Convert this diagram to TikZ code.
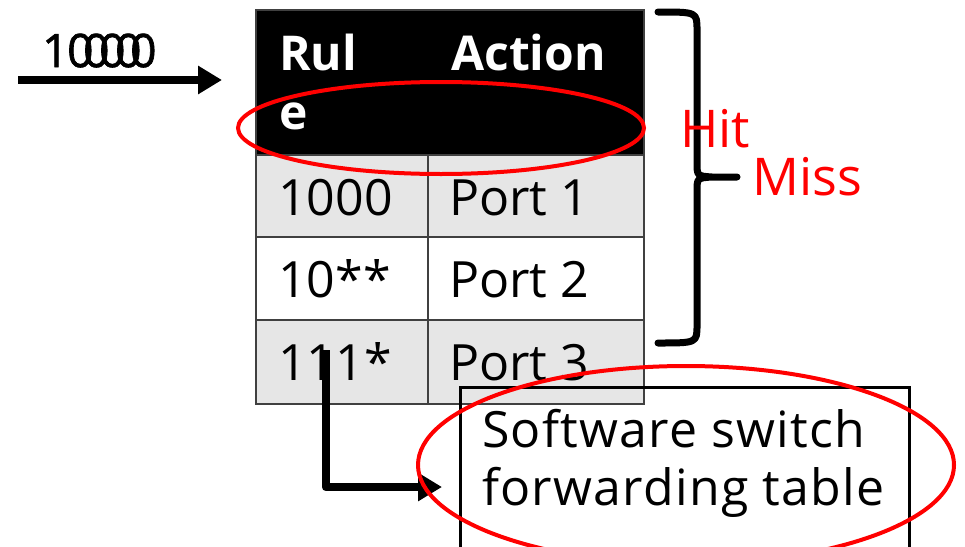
\documentclass[tikz,border=0pt]{standalone}
\usepackage{fontspec}
\setmainfont{Open Sans}
\usetikzlibrary{arrows.meta}
\definecolor{cellgray}{RGB}{230,230,230}
\definecolor{markred}{RGB}{255,0,0}
\begin{document}
\begin{tikzpicture}[x=1pt,y=-1pt,
  txt/.style={font=\fontsize{50}{60}\selectfont, inner sep=0pt, anchor=base west},
  headtxt/.style={txt, text=white, font=\fontsize{48}{58}\selectfont\bfseries},
  redtxt/.style={txt, text=markred, font=\fontsize{52}{60}\selectfont},
  boxtxt/.style={txt, font=\fontsize{50}{60}\selectfont\addfontfeature{LetterSpace=2.5}},
  pkttxt/.style={txt, font=\fontsize{46}{50}\selectfont\addfontfeature{FakeBold=1.5}},
  gridline/.style={draw=black!75, line width=1.8pt},
  thickarrow/.style={line width=8.5pt, -{Triangle[length=24pt,width=27pt]}},
  circled/.style={draw=markred, line width=4pt}]
\useasboundingbox (0,0) rectangle (965,546);

% table body
\fill[black] (256,10) rectangle (644,155);
\fill[cellgray] (256,155) rectangle (644,237);
\fill[white] (256,237) rectangle (644,320);
\fill[cellgray] (256,320) rectangle (644,404);
\draw[gridline] (256,10) rectangle (644,404);
\draw[gridline] (256,155) -- (644,155) (256,237) -- (644,237) (256,320) -- (644,320);
\draw[gridline] (428,155) -- (428,404);

% header
\node[headtxt] (hrule) at (279,70) {Rul};
\node[headtxt] (hrulee) at (279,129) {e};
\node[headtxt] (haction) at (451,70) {Action};

% rows
\node[txt] (r1a) at (278,215) {1000};
\node[txt] (r1b) at (449,215) {Port 1};
\node[txt] (r2a) at (278,297) {10**};
\node[txt] (r2b) at (449,297) {Port 2};
\node[txt] (r3a) at (278,380) {111*};
\node[txt] (r3b) at (449,380) {Port 3};

% incoming packet header, successive values overprinted
\node[pkttxt] (pk1) at (42,67) {1};
\foreach \x [count=\i] in {67,83,99,115,130}
  \node[pkttxt] (pk0\i) at (\x,67) {0};
\coordinate (inStart) at (18,80);
\coordinate (inEnd) at (222,80);
\draw[thickarrow] (inStart) -- (inEnd);

% brace around the rules
\draw[line width=7pt, line cap=round, line join=round]
  (658,12) .. controls (697,12) .. (697,30) -- (697,162)
  .. controls (697,176) .. (712,177) -- (737,177)
  (712,177) .. controls (697,178) .. (697,192) -- (697,325)
  .. controls (697,343) .. (658,343);
\node[redtxt] (hit) at (680,147) {Hit};
\node[redtxt] (miss) at (752,195) {Miss};

% software switch table
\node[draw, line width=3pt, minimum width=449pt, minimum height=180pt,
      anchor=north west, inner sep=0pt] (swbox) at (459,386) {};
\node[boxtxt] (sw1) at (482,447) {Software switch};
\node[boxtxt] (sw2) at (482,505) {forwarding table};

\coordinate (r3tap) at (326,350);
\coordinate (swin) at (442,487);
\draw[thickarrow, line join=round] (r3tap) |- (swin);

% highlight rings
\draw[circled] (441,128) ellipse [x radius=203pt, y radius=46pt];
\draw[circled] (686,465) ellipse [x radius=268pt, y radius=99pt];
\end{tikzpicture}
\end{document}
